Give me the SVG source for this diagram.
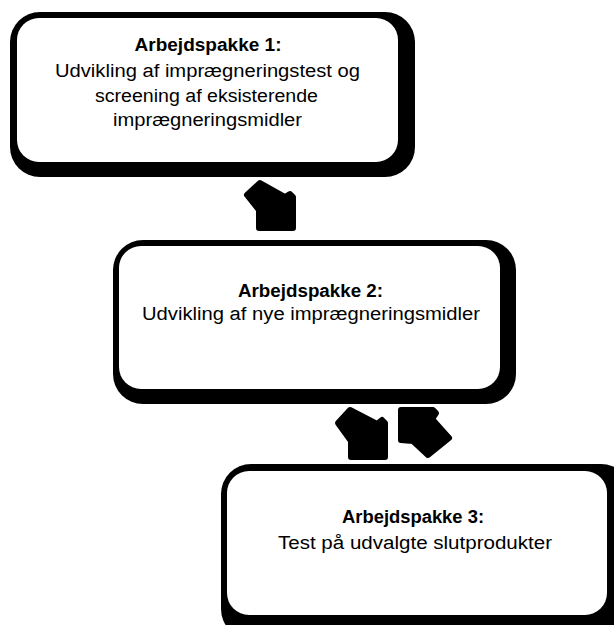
<svg xmlns="http://www.w3.org/2000/svg" width="614" height="625" viewBox="0 0 614 625">
<style>
.frame{fill:#000}
.inner{fill:#fff}
.t{font-family:"Liberation Sans",Arial,sans-serif;font-size:18px;fill:#000;text-anchor:middle}
.b{font-weight:bold}
.arrow{fill:#000;stroke:#000;stroke-width:6;stroke-linejoin:round}
</style>
<rect width="614" height="625" fill="#fff"/>
<g id="node1">
<rect class="frame" x="10" y="12" width="405" height="165" rx="30"/>
<rect class="inner" x="17" y="18" width="381" height="144" rx="22"/>
<text class="t b" x="208" y="51" textLength="147" lengthAdjust="spacingAndGlyphs">Arbejdspakke 1:</text>
<text class="t" x="207.5" y="77" textLength="305" lengthAdjust="spacingAndGlyphs">Udvikling af imprægneringstest og</text>
<text class="t" x="206.5" y="101.5" textLength="223" lengthAdjust="spacingAndGlyphs">screening af eksisterende</text>
<text class="t" x="207.5" y="126" textLength="189" lengthAdjust="spacingAndGlyphs">imprægneringsmidler</text>
</g>
<g id="node2">
<rect class="frame" x="113" y="240" width="403" height="164" rx="30"/>
<rect class="inner" x="119" y="246" width="381" height="143" rx="22"/>
<text class="t b" x="310.5" y="297" textLength="145" lengthAdjust="spacingAndGlyphs">Arbejdspakke 2:</text>
<text class="t" x="311" y="320" textLength="338" lengthAdjust="spacingAndGlyphs">Udvikling af nye imprægneringsmidler</text>
</g>
<g id="node3">
<rect class="frame" x="221" y="464" width="410" height="175" rx="30"/>
<rect class="inner" x="227" y="471" width="380" height="144" rx="22"/>
<text class="t b" x="413" y="523" textLength="142" lengthAdjust="spacingAndGlyphs">Arbejdspakke 3:</text>
<text class="t" x="415" y="549" textLength="274" lengthAdjust="spacingAndGlyphs">Test på udvalgte slutprodukter</text>
</g>
<g id="connectors">
<path class="arrow" d="M260,183 L247,195 L259,210 L259,228 L293,228 L293,197 L290,194 L285,197 Z"/>
<path class="arrow" d="M350,410 L338,423 L351,441 L351,457 L385,457 L385,423 L382,420 L377,424 Z"/>
<path class="arrow" d="M401,410 L433,410 L436,413 L432,419 L449,438 L428,455 L413,441 L401,440 Z"/>
</g>
</svg>
